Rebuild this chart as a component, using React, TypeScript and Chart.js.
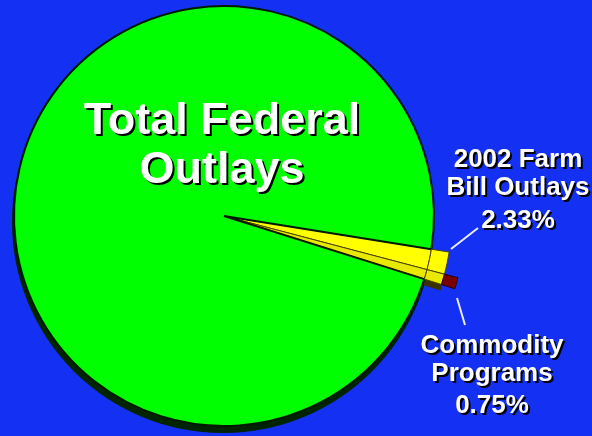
import React, { useEffect, useRef } from "react";
import { Chart, registerables } from "chart.js";

Chart.register(...registerables);

// ---- data ----
const categories = ["Other 2002 Farm Bill Outlays", "Commodity Programs", "All Other Federal Outlays"];
const shares = [1.58, 0.75, 97.67];
const titleLines = ["Total Federal", "Outlays"];
const farmLines = ["2002 Farm", "Bill Outlays", "2.33%"];
const commodityLines = ["Commodity", "Programs", "0.75%"];

const W = 592;
const H = 436;
const BLUE = "#1430f2";
const CLEAR = "rgba(0,0,0,0)";

// dark "depth" under the pie, following the inner pie's own geometry
const depthPlugin = {
  id: "pieDepth",
  beforeDatasetsDraw(chart: any) {
    const meta = chart.getDatasetMeta(2);
    const arc = meta.data[2];
    if (!arc) return;
    const ctx = chart.ctx;
    ctx.save();
    ctx.fillStyle = "#002400";
    ctx.beginPath();
    ctx.arc(arc.x - 1, arc.y + 6, arc.outerRadius + 1, 0, Math.PI * 2);
    ctx.fill();
    // depth under the protruding wedge
    const tip = chart.getDatasetMeta(1).data;
    ctx.fillStyle = "#3a3000";
    for (let i = 0; i < 2; i++) {
      const a = tip[i];
      if (!a) continue;
      ctx.beginPath();
      ctx.arc(a.x - 1, a.y + 6, a.outerRadius, a.startAngle, a.endAngle);
      ctx.arc(a.x - 1, a.y + 6, a.innerRadius - 4, a.endAngle, a.startAngle, true);
      ctx.closePath();
      ctx.fill();
    }
    ctx.restore();
  },
};

const leaderPlugin = {
  id: "leaders",
  afterDraw(chart: any) {
    const arc = chart.getDatasetMeta(2).data[0];
    if (!arc) return;
    const cx = arc.x;
    const cy = arc.y;
    const ctx = chart.ctx;
    ctx.save();
    ctx.strokeStyle = "#e8ecff";
    ctx.lineWidth = 2;
    ctx.beginPath();
    ctx.moveTo(cx + 227, cy + 33);
    ctx.lineTo(cx + 254, cy + 12);
    ctx.moveTo(cx + 233, cy + 82);
    ctx.lineTo(cx + 241, cy + 109);
    ctx.stroke();
    ctx.restore();
  },
};

function Lines(props: { lines: string[]; cx: number; tops: number[]; size: number }) {
  const { lines, cx, tops, size } = props;
  return (
    <>
      {lines.map((t, i) => (
        <div
          key={i}
          style={{
            position: "absolute",
            left: cx - 200,
            width: 400,
            top: tops[i],
            textAlign: "center",
            font: `bold ${size}px "Liberation Sans", Arial, sans-serif`,
            lineHeight: `${size}px`,
            color: "#ffffff",
            textShadow: "2px 2px 0 #000000",
            whiteSpace: "nowrap",
          }}
        >
          {t}
        </div>
      ))}
    </>
  );
}

export default function App() {
  const ref = useRef<HTMLCanvasElement | null>(null);

  useEffect(() => {
    if (!ref.current) return;
    const chart = new Chart(ref.current, {
      type: "pie",
      data: {
        labels: categories,
        datasets: [
          {
            data: shares,
            weight: 14,
            backgroundColor: [CLEAR, "#7a0000", CLEAR],
            borderColor: [CLEAR, "#2a0000", CLEAR],
            borderWidth: [0, 1, 0],
          },
          {
            data: shares,
            weight: 18,
            backgroundColor: ["#ffff00", "#e8e800", CLEAR],
            borderColor: ["#4a4400", "#4a4400", CLEAR],
            borderWidth: [1, 1, 0],
          },
          {
            data: shares,
            weight: 210,
            backgroundColor: ["#ffff00", "#e8e800", "#00ff00"],
            borderColor: ["#4a4400", "#4a4400", "#001a00"],
            borderWidth: [1, 1, 2],
          },
        ],
      } as any,
      options: {
        responsive: false,
        animation: false,
        devicePixelRatio: 1,
        radius: 242,
        rotation: 99.1,
        layout: { padding: { left: 0, right: 144, top: 0, bottom: 4 } },
        plugins: {
          legend: { display: false },
          tooltip: { enabled: false },
          title: { display: false },
        },
        events: [],
      } as any,
      plugins: [depthPlugin, leaderPlugin],
    });
    return () => chart.destroy();
  }, []);

  return (
    <div
      style={{
        position: "fixed",
        left: 0,
        top: 0,
        width: W,
        height: H,
        overflow: "hidden",
        background: BLUE,
      }}
    >
      <canvas ref={ref} width={W} height={H} style={{ position: "absolute", left: 0, top: 0 }} />
      <Lines lines={titleLines} cx={222} tops={[96, 145]} size={45} />
      <Lines lines={farmLines} cx={518} tops={[145, 173, 206]} size={26} />
      <Lines lines={commodityLines} cx={492} tops={[331, 359, 391]} size={26} />
    </div>
  );
}
